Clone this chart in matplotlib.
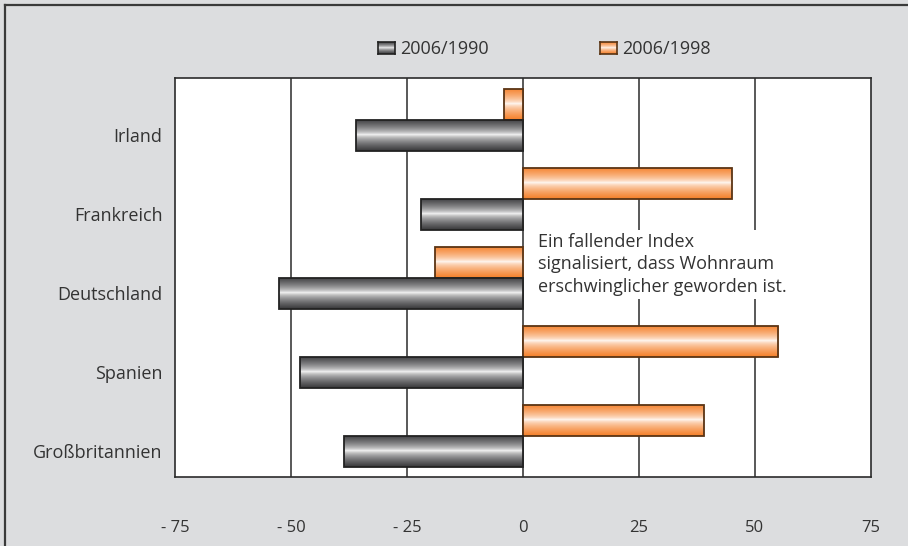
import numpy as np
import matplotlib.pyplot as plt
from matplotlib.lines import Line2D

# ------------------------------------------------------------
# Data: index change of housing affordability (in %)
# ------------------------------------------------------------

countries = ["Irland", "Frankreich", "Deutschland", "Spanien", "Großbritannien"]
change_1990 = [-36, -22, -52.5, -48, -38.5]
change_1998 = [-4, 45, -19, 55, 39]
series_labels = ["2006/1990", "2006/1998"]
xticks = [-75, -50, -25, 0, 25, 50, 75]
note = "Ein fallender Index\nsignalisiert, dass Wohnraum\nerschwinglicher geworden ist."

plt.rcParams["font.family"] = ["Open Sans", "DejaVu Sans"]
text_color = "#333333"
bg_color = "#dcdddf"

# vertical shading profile: dark at the edges, white in the middle
t = np.linspace(0, 1, 64)
profile = np.abs(t - 0.47) / 0.53
profile = profile ** 0.6


def shade(edge_rgb):
    edge = np.array(edge_rgb)
    white = np.ones(3)
    return (white[None, :] * (1 - profile[:, None]) + edge[None, :] * profile[:, None])[:, None, :]


gray_img = shade([0.22, 0.22, 0.23])
orange_img = shade([0.96, 0.50, 0.16])


def gradient_bar(ax, y, width, height, img, edge):
    x0, x1 = min(0, width), max(0, width)
    ax.imshow(img, extent=(x0, x1, y + height / 2, y - height / 2),
              aspect="auto", interpolation="bilinear", zorder=2)
    ax.add_patch(plt.Rectangle((x0, y - height / 2), x1 - x0, height,
                               fill=False, edgecolor=edge, linewidth=1.3, zorder=3))


fig = plt.figure(figsize=(9.08, 5.46), dpi=100)
fig.patch.set_facecolor(bg_color)

# frame lines at the top and left edge of the figure
fig.add_artist(Line2D([5 / 908, 5 / 908], [0, 1 - 5 / 546], color="#3a3a3a", lw=1.6))
fig.add_artist(Line2D([5 / 908, 1], [1 - 5 / 546, 1 - 5 / 546], color="#3a3a3a", lw=1.6))

ax = fig.add_axes([175 / 908, 1 - 477 / 546, 696 / 908, 399 / 546])
ax.set_facecolor("white")

bar_h = 0.39
off = 0.197
pos = np.arange(len(countries))

for i in pos:
    gradient_bar(ax, i - off, change_1998[i], bar_h, orange_img, "#5a3414")
    gradient_bar(ax, i + off, change_1990[i], bar_h, gray_img, "#222222")

for x in [-50, -25, 0, 25, 50]:
    ax.axvline(x, color="#2b2b2b", lw=1.1, zorder=1)

ax.set_xlim(-75, 75)
ax.set_ylim(4.52, -0.53)
ax.set_xticks(xticks)
ax.set_xticklabels([("- %d" % -v) if v < 0 else str(v) for v in xticks],
                   fontsize=12, color=text_color)
ax.set_yticks(pos + off)
ax.set_yticklabels(countries, fontsize=13, color=text_color)
ax.tick_params(axis="x", length=0, pad=31)
ax.tick_params(axis="y", length=0, pad=9)
for s in ax.spines.values():
    s.set_color("#2b2b2b")
    s.set_linewidth(1.2)

ax.text(3.3, 1.83, note, fontsize=13, color=text_color, va="center", ha="left",
        linespacing=1.33, zorder=4,
        bbox=dict(facecolor="white", edgecolor="none", pad=2))

# legend swatches with the same shading
for img, edge, label, xs in [(gray_img, "#222222", series_labels[0], 378),
                             (orange_img, "#5a3414", series_labels[1], 600)]:
    sw = fig.add_axes([xs / 908, 1 - 54 / 546, 17 / 908, 12 / 546])
    sw.imshow(img, aspect="auto", interpolation="bilinear")
    sw.set_xticks([])
    sw.set_yticks([])
    for s in sw.spines.values():
        s.set_color(edge)
        s.set_linewidth(1.2)
    fig.text((xs + 22) / 908, 1 - 49 / 546, label, fontsize=13, color=text_color,
             va="center", ha="left")

fig.savefig("out.png", dpi=100, facecolor=fig.get_facecolor())
